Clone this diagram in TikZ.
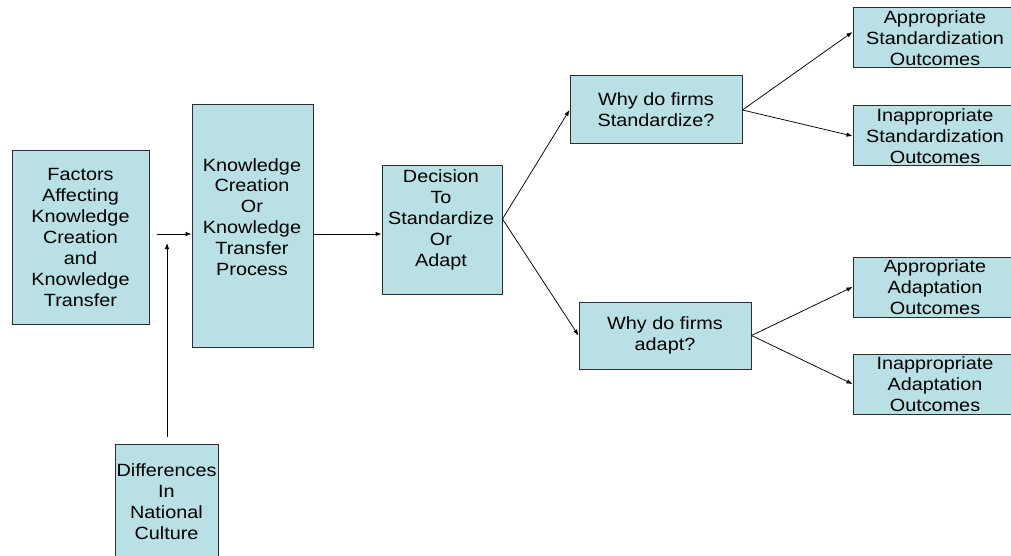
\documentclass[tikz,border=0pt]{standalone}
\usepackage{fontspec}
\setmainfont{Liberation Sans}[FakeStretch=1.12]
\usetikzlibrary{arrows.meta}
\definecolor{boxfill}{RGB}{185,224,228}
\definecolor{boxline}{RGB}{45,45,45}
\tikzset{
  box/.style={draw=boxline, fill=boxfill, line width=1pt, inner sep=0pt, align=center},
  txt/.style={inner sep=0pt, align=center},
  arr/.style={draw=black, line width=0.75pt, -{Latex[length=6pt,width=4.5pt]}}
}
\begin{document}
\begin{tikzpicture}[x=1pt,y=-1pt,font=\fontsize{17.7}{20.9}\selectfont]
\clip (0,0) rectangle (1011,556);
\fill[white] (0,0) rectangle (1011,556);
% boxes
\node[box, minimum width=137pt, minimum height=173pt] (fac) at (80.5,237.5)
  {Factors\\Affecting\\Knowledge\\Creation\\and\\Knowledge\\Transfer};
\node[box, minimum width=121pt, minimum height=242pt] (kc) at (252.5,226) {};
\node[txt] (kctext) at (252,217) {Knowledge\\Creation\\Or\\Knowledge\\Transfer\\Process};
\node[box, minimum width=120pt, minimum height=128pt] (dec) at (442,230) {};
\node[txt] (dectext) at (441,220) {Decision\\To\\Standardize\\Or\\Adapt};
\node[box, minimum width=172pt, minimum height=68pt] (ws) at (656,110) {Why do firms\\Standardize?};
\node[box, minimum width=172pt, minimum height=67pt] (wa) at (665,335.5) {Why do firms\\adapt?};
\node[box, minimum width=164pt, minimum height=60pt] (as) at (935,38) {Appropriate\\Standardization\\Outcomes};
\node[box, minimum width=164pt, minimum height=60pt] (is) at (935,136) {Inappropriate\\Standardization\\Outcomes};
\node[box, minimum width=164pt, minimum height=60pt] (aa) at (935,287) {Appropriate\\Adaptation\\Outcomes};
\node[box, minimum width=164pt, minimum height=60pt] (ia) at (935,384) {Inappropriate\\Adaptation\\Outcomes};
\node[box, minimum width=103pt, minimum height=116pt] (diff) at (166.5,502) {Differences\\In\\National\\Culture};
% connectors
\coordinate (hs) at (157,234);
\draw[arr] (hs) -- (hs -| kc.west);
\coordinate (vs) at (167,437);
\coordinate (vt) at (167,243);
\draw[arr] (vs) -- (vt);
\coordinate (din) at ([yshift=-4pt]dec.west);
\draw[arr] (kc.east |- din) -- (din);
\coordinate (dout) at ([yshift=11pt]dec.east);
\draw[arr] (dout) -- (ws.west);
\draw[arr] (dout) -- (wa.west);
\draw[arr] (ws.east) -- ([yshift=6pt]as.west);
\draw[arr] (ws.east) -- (is.west);
\draw[arr] (wa.east) -- (aa.west);
\draw[arr] (wa.east) -- (ia.west);
\end{tikzpicture}
\end{document}
